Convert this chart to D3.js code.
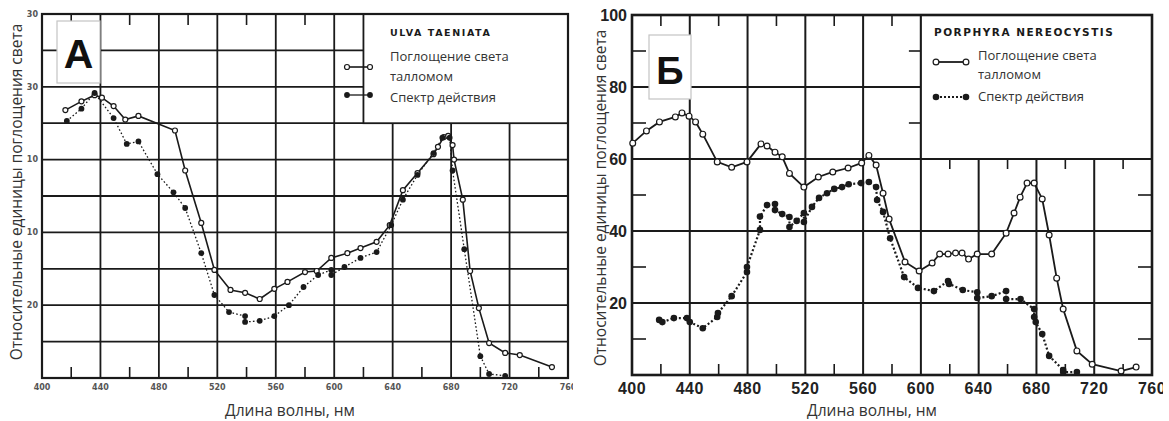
<!DOCTYPE html>
<html>
<head>
<meta charset="utf-8">
<script src="https://cdn.jsdelivr.net/npm/d3@7"></script>
<style>
  body { margin: 0; background: #fff; }
  svg { display: block; }
</style>
</head>
<body>
<svg id="chart" width="1169" height="421"></svg>
<script>
// wavelength ticks (nm), same for both panels
const wlGrid = [440, 480, 520, 560, 600, 640, 680, 720];
const wlMinor = [420, 460, 500, 540, 580, 620, 660, 700, 740];
const wlLabels = [400, 440, 480, 520, 560, 600, 640, 680, 720, 760];

// panel A - Ulva taeniata
const ulvaGrid = [10, 20, 30, 40, 50, 60, 70, 80, 90];
const ulvaTicks = [20, 40, 60, 80, 100];
const ulvaTickText = ["20", "10", "10", "30", "30"]; // as they are printed in the scan
const ulvaAbsorption = [
  [416, 73.6], [427, 76], [436, 77.7], [441, 77], [449, 74.7], [457, 71], [466, 72],
  [491, 68], [498, 57], [509, 42.6], [518, 29.7], [529, 24.2], [539, 23.4], [549, 21.7],
  [559, 24.5], [568, 26.4], [580, 29.1], [588, 29.4], [598, 33], [609, 34.3], [618, 35.7],
  [629, 37.4], [638, 42], [647, 51.6], [657, 56.3], [668, 61.5], [671, 63.5], [675, 66.2],
  [678, 66.5], [681, 64], [682, 60], [688, 49], [693, 29.4], [699, 19.2], [706, 9.6],
  [717, 6.9], [727, 6.3], [749, 3]
];
const ulvaAction = [
  [417, 70.6], [427, 74], [436, 78.3], [449, 71.4], [458, 64.3], [466, 65], [479, 56],
  [490, 51], [498, 46.7], [509, 34.3], [518, 22.8], [528, 18.1], [539, 17], [539, 15.4],
  [549, 15.7], [559, 17], [569, 20], [579, 25], [589, 28.3], [598, 29.7], [598, 28.3],
  [607, 30.5], [618, 33], [629, 34.6], [639, 42], [647, 49], [657, 55.8], [668, 61.8],
  [674, 66], [679, 66], [681, 57], [689, 35.4], [700, 6], [706, 1.1], [717, 0.6]
];

// panel Б - Porphyra nereocystis
const porphGrid = [20, 40, 60, 80];
const porphMinor = [10, 30, 50, 70, 90];
const porphTicks = [20, 40, 60, 80, 100];
const porphAbsorption = [
  [400.5, 64.4], [410, 67.8], [419, 70.3], [430, 71.7], [434.6, 72.8], [439.5, 71.9],
  [444, 70.3], [449, 66.9], [459, 59.2], [469, 57.7], [479.6, 59.2], [489.3, 64.2],
  [493.5, 63.6], [499, 61.9], [504, 60.6], [509, 56], [519, 52.2], [529, 55], [539, 56.4],
  [549.6, 57.5], [559, 58.9], [564, 61], [569, 58.3], [573.8, 50.5], [578, 43.3],
  [589, 31.4], [598.8, 28.9], [607.8, 31.1], [613, 33.6], [618.8, 33.6], [624, 33.9],
  [628.5, 33.9], [633, 32.2], [639, 33.6], [649, 33.6], [659, 39.4], [664.5, 45],
  [668.7, 49.4], [673.5, 53.3], [678.4, 53.3], [684, 48.9], [688.8, 38.9], [694, 26.9],
  [698.5, 18.3], [708, 6.7], [718.6, 3], [738.6, 1.1], [749, 2.2]
];
const porphAction = [
  [418.8, 15.3], [421, 14.7], [429, 15.8], [438, 15.8], [440, 14.7], [449, 13], [459, 16.1],
  [459.5, 17.2], [469, 21.9], [479.6, 28.6], [479.6, 30], [488.6, 40.3], [488.6, 44],
  [493.5, 47.2], [499, 47.5], [499, 45.8], [504, 44.7], [509, 43.9], [509, 41.1], [514, 42.8],
  [519, 45], [519, 42.5], [524.6, 46.7], [529.5, 49.2], [535, 50.5], [540, 51.7],
  [545.4, 52.2], [550, 53], [558.6, 53.3], [564, 53.6], [569, 52.2], [569.7, 48.6],
  [573.8, 45.3], [578.7, 38], [588.4, 27.2], [598, 24.2], [609, 23.3], [618.8, 26.1],
  [619.5, 25.3], [629, 23.6], [639, 23], [639, 21.4], [649, 21.9], [659, 23.3], [659, 21.1],
  [669, 21.1], [678.4, 18.3], [678.4, 16.1], [679.5, 14.7], [684, 11.4], [688.8, 5.3],
  [698.5, 1.4], [698.5, 0.8], [708, 0.8]
];

const svg = d3.select("#chart");
const ink = "#1a1a1a";
const textFont = "'Open Sans', 'Noto Sans', sans-serif";
const yTitle = "Относительные единицы поглощения света";
const xTitle = "Длина волны, нм";

function drawPanel(p) {
  const x = d3.scaleLinear().domain([400, 760]).range(p.xRange);
  const y = d3.scaleLinear().domain([0, 100]).range(p.yRange);
  const [x0, x1] = p.xRange, [y0, y1] = p.yRange;

  svg.append("clipPath").attr("id", "clip" + p.id)
    .append("rect").attr("x", p.clip[0]).attr("y", 0)
    .attr("width", p.clip[1] - p.clip[0]).attr("height", 421);
  const g = svg.append("g").attr("clip-path", `url(#clip${p.id})`);

  // grid
  g.selectAll(".hg").data(p.yGrid).enter().append("line")
    .attr("x1", x0).attr("x2", x1).attr("y1", d => y(d)).attr("y2", d => y(d))
    .attr("stroke", ink).attr("stroke-width", p.gridW);
  g.selectAll(".vg").data(wlGrid).enter().append("line")
    .attr("x1", d => x(d)).attr("x2", d => x(d)).attr("y1", y0).attr("y2", y1)
    .attr("stroke", ink).attr("stroke-width", p.gridW);

  // minor ticks on the bottom and top
  g.selectAll(".bt").data(wlMinor).enter().append("line")
    .attr("x1", d => x(d)).attr("x2", d => x(d)).attr("y1", y0).attr("y2", y0 - 11)
    .attr("stroke", ink).attr("stroke-width", 1.6);
  g.selectAll(".tt").data(wlMinor.filter(d => d < p.legendWl)).enter().append("line")
    .attr("x1", d => x(d)).attr("x2", d => x(d)).attr("y1", y1).attr("y2", y1 + 11)
    .attr("stroke", ink).attr("stroke-width", 1.6);
  if (p.yMinor) {
    g.selectAll(".lt").data(p.yMinor).enter().append("line")
      .attr("x1", x0).attr("x2", x0 + 14).attr("y1", d => y(d)).attr("y2", d => y(d))
      .attr("stroke", ink).attr("stroke-width", 1.6);
    g.selectAll(".rt").data(p.yMinor.filter(d => d < 60)).enter().append("line")
      .attr("x1", x1).attr("x2", x1 - 14).attr("y1", d => y(d)).attr("y2", d => y(d))
      .attr("stroke", ink).attr("stroke-width", 1.6);
  }

  // legend box, white over the grid
  const lx = x(p.legendWl), ly = y(p.legendBottom);
  g.append("rect").attr("x", lx).attr("y", y1).attr("width", x1 - lx).attr("height", ly - y1)
    .attr("fill", "#fff").attr("stroke", ink).attr("stroke-width", p.gridW);
  if (p.yMinor) {
    g.selectAll(".lbt").data(wlMinor.filter(d => d > p.legendWl)).enter().append("line")
      .attr("x1", d => x(d)).attr("x2", d => x(d)).attr("y1", ly).attr("y2", ly + 10)
      .attr("stroke", ink).attr("stroke-width", 1.6);
    g.selectAll(".llt").data(p.yMinor.filter(d => d > p.legendBottom)).enter().append("line")
      .attr("x1", lx).attr("x2", lx - 12).attr("y1", d => y(d)).attr("y2", d => y(d))
      .attr("stroke", ink).attr("stroke-width", 1.6);
  }

  // frame
  g.append("rect").attr("x", x0).attr("y", y1).attr("width", x1 - x0).attr("height", y0 - y1)
    .attr("fill", "none").attr("stroke", ink).attr("stroke-width", p.frameW);

  // panel letter box
  const b = p.badge;
  g.append("rect").attr("x", b.x).attr("y", b.y).attr("width", b.w).attr("height", b.h)
    .attr("fill", "#fff").attr("stroke", "#c4c4c4").attr("stroke-width", 1.2);
  g.append("text").attr("x", b.x + b.w / 2).attr("y", b.y + b.h - 15)
    .attr("text-anchor", "middle").attr("font-family", "'Liberation Sans', Arial, sans-serif")
    .attr("font-weight", "bold").attr("font-size", b.size).attr("fill", "#111").text(b.text);

  // series
  const line = d3.line().x(d => x(d[0])).y(d => y(d[1]));
  g.append("path").datum(p.action).attr("d", line).attr("fill", "none")
    .attr("stroke", ink).attr("stroke-width", p.dotW).attr("stroke-dasharray", p.dash);
  g.append("path").datum(p.absorption).attr("d", line).attr("fill", "none")
    .attr("stroke", ink).attr("stroke-width", p.lineW);
  g.selectAll(".ab").data(p.absorption).enter().append("circle")
    .attr("cx", d => x(d[0])).attr("cy", d => y(d[1])).attr("r", p.r)
    .attr("fill", "#fff").attr("stroke", ink).attr("stroke-width", 1.2);
  g.selectAll(".ac").data(p.action).enter().append("circle")
    .attr("cx", d => x(d[0])).attr("cy", d => y(d[1])).attr("r", p.r + 0.4)
    .attr("fill", ink);

  // legend content
  const L = p.legend;
  g.append("text").attr("x", L.titleX).attr("y", L.titleY)
    .attr("font-family", "'DejaVu Sans', sans-serif").attr("font-weight", "bold")
    .attr("font-size", L.titleSize).attr("letter-spacing", L.titleSpacing)
    .attr("fill", ink).text(L.title);
  g.append("line").attr("x1", L.symX[0]).attr("x2", L.symX[1]).attr("y1", L.symY[0]).attr("y2", L.symY[0])
    .attr("stroke", ink).attr("stroke-width", p.lineW);
  g.selectAll(".ls1").data(L.symX).enter().append("circle")
    .attr("cx", d => d).attr("cy", L.symY[0]).attr("r", p.r)
    .attr("fill", "#fff").attr("stroke", ink).attr("stroke-width", 1.2);
  g.append("line").attr("x1", L.symX[0]).attr("x2", L.symX[1]).attr("y1", L.symY[1]).attr("y2", L.symY[1])
    .attr("stroke", ink).attr("stroke-width", p.dotW).attr("stroke-dasharray", L.symDash);
  g.selectAll(".ls2").data(L.symX).enter().append("circle")
    .attr("cx", d => d).attr("cy", L.symY[1]).attr("r", p.r + 0.4).attr("fill", ink);
  [["Поглощение света", L.textY[0]], ["талломом", L.textY[1]], ["Спектр действия", L.textY[2]]]
    .forEach(([t, ty]) => {
      g.append("text").attr("x", L.textX).attr("y", ty).attr("font-family", textFont)
        .attr("font-size", 13).attr("fill", "#333").text(t);
    });

  // tick labels
  const T = p.ticks;
  g.selectAll(".xl").data(wlLabels).enter().append("text")
    .attr("x", d => x(d)).attr("y", T.xY).attr("text-anchor", "middle")
    .attr("font-family", T.font).attr("font-weight", "bold").attr("font-size", T.size)
    .attr("fill", T.fill).attr("letter-spacing", T.spacing).text(d => d);
  g.selectAll(".yl").data(p.yTicks).enter().append("text")
    .attr("x", x0 - T.yGap).attr("y", d => y(d)).attr("dy", "0.35em").attr("text-anchor", "end")
    .attr("font-family", T.font).attr("font-weight", "bold").attr("font-size", T.size)
    .attr("fill", T.fill).text((d, i) => p.yTickText ? p.yTickText[i] : d);

  // axis titles
  g.append("text").attr("transform", `translate(${p.yTitleX},${p.yTitleY}) rotate(-90)`)
    .attr("text-anchor", "middle").attr("font-family", textFont).attr("font-size", 15.5)
    .attr("fill", "#333").text(yTitle);
  g.append("text").attr("x", p.xTitleX).attr("y", 416).attr("text-anchor", "middle")
    .attr("font-family", textFont).attr("font-size", 15.5).attr("fill", "#333").text(xTitle);
}

drawPanel({
  id: "A", xRange: [42, 568], yRange: [378, 14], clip: [0, 573],
  yGrid: ulvaGrid, yTicks: ulvaTicks, yTickText: ulvaTickText,
  absorption: ulvaAbsorption, action: ulvaAction,
  gridW: 1.8, frameW: 2.2, lineW: 1.6, dotW: 1.3, dash: "1.6,2.2", r: 2.5,
  legendWl: 620, legendBottom: 70,
  badge: { x: 57, y: 21, w: 43, h: 62, text: "A", size: 41 },
  legend: {
    title: "ULVA TAENIATA", titleX: 390, titleY: 36, titleSize: 9.5, titleSpacing: 1.6,
    symX: [347, 370], symY: [67, 95], symDash: null, textX: 390, textY: [61, 81, 102]
  },
  ticks: { xY: 390, size: 8, font: "'DejaVu Sans', sans-serif", fill: "#555", spacing: 0, yGap: 4 },
  yTitleX: 22, yTitleY: 192, xTitleX: 290
});

drawPanel({
  id: "B", xRange: [632, 1152], yRange: [375, 15], clip: [578, 1163],
  yGrid: porphGrid, yMinor: porphMinor, yTicks: porphTicks,
  absorption: porphAbsorption, action: porphAction,
  gridW: 2, frameW: 2.6, lineW: 1.8, dotW: 2.2, dash: "2,2.2", r: 2.9,
  legendWl: 600, legendBottom: 60,
  badge: { x: 649, y: 35, w: 42, h: 64, text: "Б", size: 38 },
  legend: {
    title: "PORPHYRA NEREOCYSTIS", titleX: 934, titleY: 36, titleSize: 10.5, titleSpacing: 1.5,
    symX: [936, 966], symY: [62, 97], symDash: "2,2", textX: 978, textY: [60, 79, 101]
  },
  ticks: { xY: 394, size: 16, font: "'Liberation Sans', Arial, sans-serif", fill: "#222", spacing: 0.5, yGap: 5 },
  yTitleX: 606, yTitleY: 198, xTitleX: 872
});
</script>
</body>
</html>
